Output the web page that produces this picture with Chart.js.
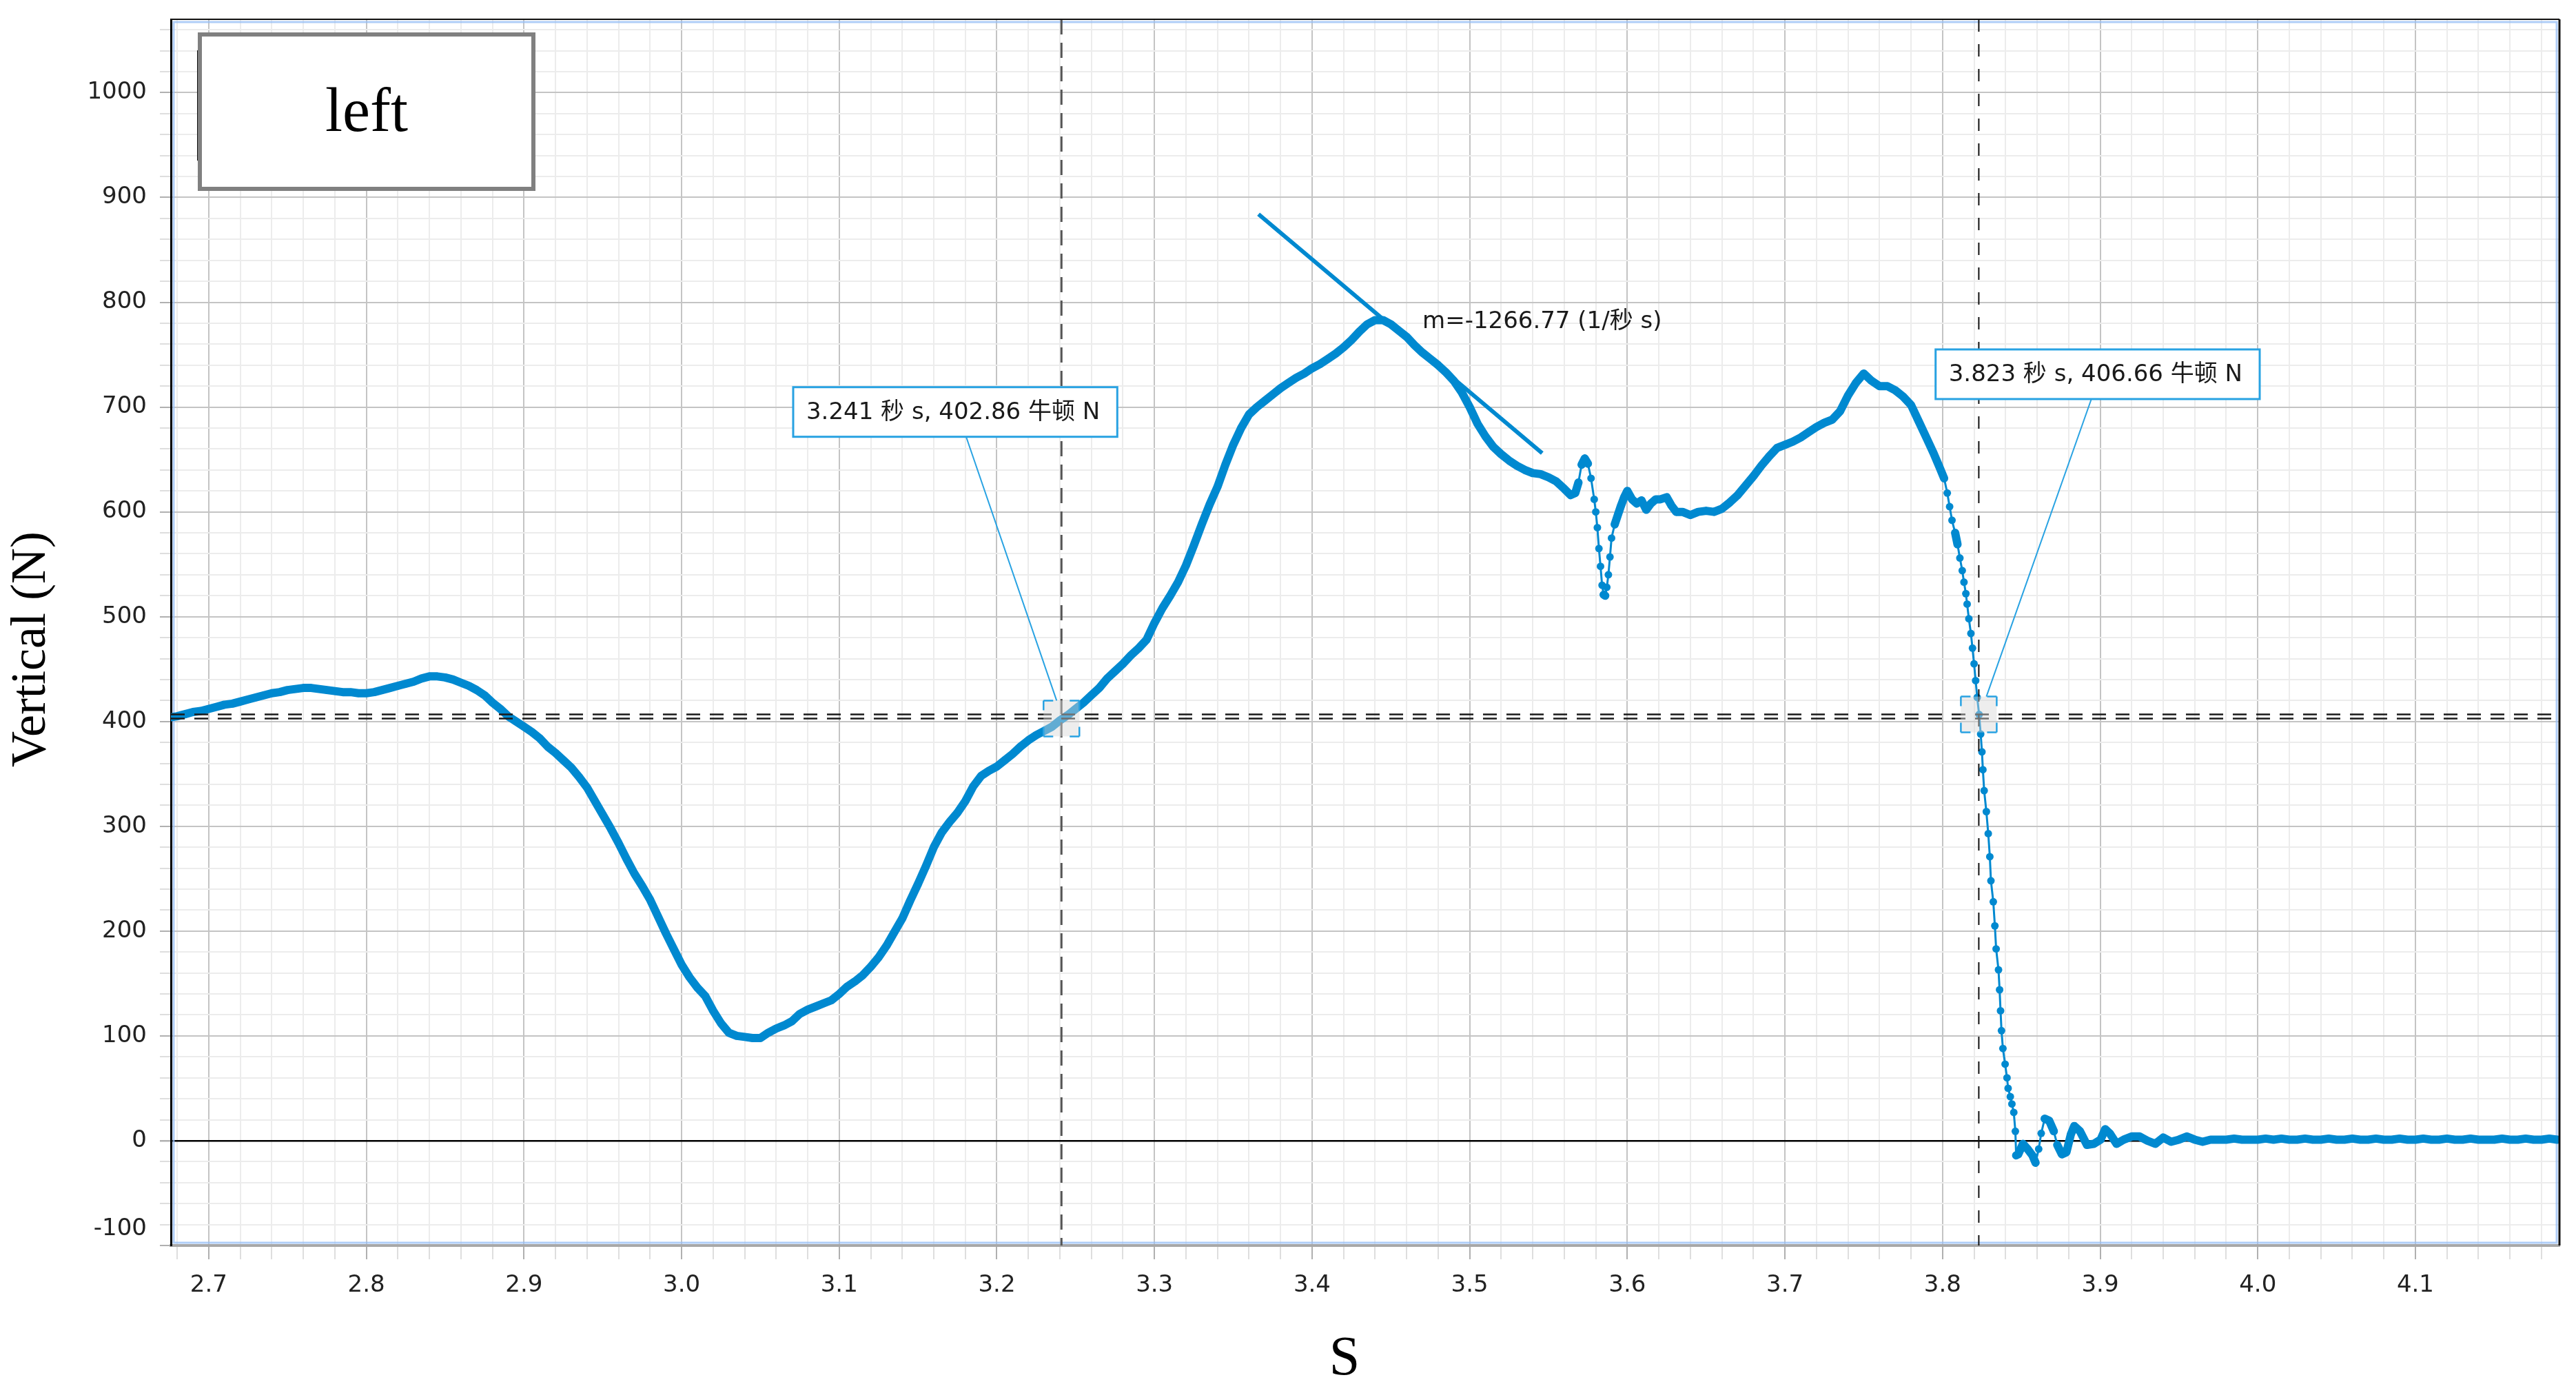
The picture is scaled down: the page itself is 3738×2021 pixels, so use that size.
<!DOCTYPE html>
<html>
<head>
<meta charset="utf-8">
<title>Vertical force</title>
<script src="https://cdn.jsdelivr.net/npm/chart.js@4.4.1/dist/chart.umd.min.js"></script>
<style>
  html, body { margin: 0; padding: 0; background: #fff; }
</style>
</head>
<body>
<canvas id="force_chart" width="3738" height="2021"></canvas>
<script>
// force plate trace
const time_s = [
    2.676, 2.680, 2.685, 2.690, 2.695, 2.700, 2.705, 2.710, 2.715, 2.720,
    2.725, 2.730, 2.735, 2.740, 2.745, 2.750, 2.755, 2.760, 2.765, 2.770,
    2.775, 2.780, 2.785, 2.790, 2.795, 2.800, 2.805, 2.810, 2.815, 2.820,
    2.825, 2.830, 2.835, 2.840, 2.845, 2.850, 2.855, 2.860, 2.865, 2.870,
    2.875, 2.880, 2.885, 2.890, 2.895, 2.900, 2.905, 2.910, 2.915, 2.920,
    2.925, 2.930, 2.935, 2.940, 2.945, 2.950, 2.955, 2.960, 2.965, 2.970,
    2.975, 2.980, 2.985, 2.990, 2.995, 3.000, 3.005, 3.010, 3.015, 3.020,
    3.025, 3.030, 3.035, 3.040, 3.045, 3.050, 3.055, 3.060, 3.065, 3.070,
    3.075, 3.080, 3.085, 3.090, 3.095, 3.100, 3.105, 3.110, 3.115, 3.120,
    3.125, 3.130, 3.135, 3.140, 3.145, 3.150, 3.155, 3.160, 3.165, 3.170,
    3.175, 3.180, 3.185, 3.190, 3.195, 3.200, 3.205, 3.210, 3.215, 3.220,
    3.225, 3.230, 3.235, 3.240, 3.245, 3.250, 3.255, 3.260, 3.265, 3.270,
    3.275, 3.280, 3.285, 3.290, 3.295, 3.300, 3.305, 3.310, 3.315, 3.320,
    3.325, 3.330, 3.335, 3.340, 3.345, 3.350, 3.355, 3.360, 3.365, 3.370,
    3.375, 3.380, 3.385, 3.390, 3.395, 3.400, 3.405, 3.410, 3.415, 3.420,
    3.425, 3.430, 3.435, 3.440, 3.445, 3.450, 3.455, 3.460, 3.465, 3.470,
    3.475, 3.480, 3.485, 3.490, 3.495, 3.500, 3.505, 3.510, 3.515, 3.520,
    3.525, 3.530, 3.535, 3.540, 3.545, 3.550, 3.555, 3.560, 3.564, 3.567,
    3.569, 3.571, 3.573, 3.575, 3.577, 3.579, 3.580, 3.581, 3.582, 3.583,
    3.584, 3.585, 3.586, 3.587, 3.588, 3.589, 3.590, 3.592, 3.594, 3.596,
    3.598, 3.600, 3.603, 3.606, 3.609, 3.612, 3.615, 3.618, 3.621, 3.625,
    3.628, 3.631, 3.635, 3.640, 3.645, 3.650, 3.655, 3.660, 3.665, 3.670,
    3.675, 3.680, 3.685, 3.690, 3.695, 3.700, 3.705, 3.710, 3.715, 3.720,
    3.725, 3.730, 3.735, 3.740, 3.745, 3.750, 3.755, 3.760, 3.765, 3.770,
    3.775, 3.780, 3.785, 3.790, 3.794, 3.798, 3.801, 3.803, 3.8045, 3.806,
    3.808, 3.8095, 3.811, 3.8125, 3.8136, 3.8148, 3.8156, 3.8167, 3.818, 3.819,
    3.820, 3.821, 3.822, 3.8232, 3.8242, 3.825, 3.8256, 3.8264, 3.8278, 3.829,
    3.830, 3.8307, 3.8322, 3.8332, 3.834, 3.8355, 3.8362, 3.8368, 3.8374, 3.8383,
    3.8397, 3.8409, 3.8416, 3.843, 3.844, 3.8452, 3.8462, 3.8467, 3.848, 3.851,
    3.854, 3.857, 3.859, 3.861, 3.8626, 3.8648, 3.8677, 3.8706, 3.8728, 3.8757,
    3.8786, 3.8814, 3.8836, 3.8872, 3.8916, 3.8959, 3.9003, 3.9032, 3.9061, 3.9104,
    3.915, 3.920, 3.925, 3.930, 3.935, 3.940, 3.945, 3.950, 3.955, 3.960,
    3.965, 3.970, 3.975, 3.980, 3.985, 3.990, 3.995, 4.000, 4.005, 4.010,
    4.015, 4.020, 4.025, 4.030, 4.035, 4.040, 4.045, 4.050, 4.055, 4.060,
    4.065, 4.070, 4.075, 4.080, 4.085, 4.090, 4.095, 4.100, 4.105, 4.110,
    4.115, 4.120, 4.125, 4.130, 4.135, 4.140, 4.145, 4.150, 4.155, 4.160,
    4.165, 4.170, 4.175, 4.180, 4.185, 4.190
];
const force_n = [
    404, 405, 407, 409, 410, 412, 414, 416, 417, 419,
    421, 423, 425, 427, 428, 430, 431, 432, 432, 431,
    430, 429, 428, 428, 427, 427, 428, 430, 432, 434,
    436, 438, 441, 443, 443, 442, 440, 437, 434, 430,
    425, 418, 412, 405, 400, 395, 390, 384, 376, 370,
    363, 356, 347, 337, 324, 311, 298, 284, 269, 255,
    243, 230, 214, 198, 183, 168, 156, 146, 138, 124,
    112, 103, 100, 99, 98, 98, 103, 107, 110, 114,
    121, 125, 128, 131, 134, 140, 147, 152, 158, 166,
    175, 186, 199, 212, 229, 245, 262, 280, 294, 304,
    313, 324, 338, 348, 353, 357, 363, 369, 376, 382,
    387, 391, 395, 401, 406, 412, 418, 425, 432, 441,
    448, 455, 463, 470, 478, 494, 508, 520, 533, 549,
    568, 588, 607, 624, 645, 664, 680, 693, 700, 706,
    712, 718, 723, 728, 732, 737, 741, 746, 751, 757,
    764, 772, 779, 783, 783, 779, 773, 767, 759, 752,
    746, 740, 733, 725, 714, 700, 684, 672, 662, 655,
    649, 644, 640, 637, 636, 633, 629, 622, 616, 618,
    628, 645, 651, 646, 632, 612, 600, 585, 565, 548,
    530, 521, 520, 528, 540, 557, 575, 588, 597, 606,
    614, 620, 612, 608, 611, 602, 608, 612, 612, 614,
    606, 600, 600, 597, 600, 601, 600, 603, 609, 616,
    625, 634, 644, 653, 661, 664, 667, 671, 676, 681,
    685, 688, 696, 711, 723, 732, 725, 720, 720, 716,
    710, 702, 686, 670, 657, 643, 632, 618, 605, 592,
    580, 569, 556, 544, 533, 522, 512, 498, 484, 470,
    455, 439, 423, 406.66, 388, 371, 354, 334, 314, 293,
    271, 248, 228, 205, 183, 163, 144, 124, 105, 88,
    73, 60, 50, 42, 35, 27, 9, -14, -13, -3,
    -8, -14, -21, -8, 7, 21, 19, 9, -4, -13,
    -11, 6, 14, 9, -4, -3, 1, 11, 7, -3,
    1, 4, 4, 0, -3, 3, -1, 1, 4, 1,
    -1, 1, 1, 1, 2, 1, 1, 1, 2, 1,
    2, 1, 1, 2, 1, 1, 2, 1, 1, 2,
    1, 1, 2, 1, 1, 2, 1, 1, 2, 1,
    1, 2, 1, 1, 2, 1, 1, 1, 2, 1,
    1, 2, 1, 1, 2, 1
];

const series_name = 'left';
const x_title = 'S';
const y_title = 'Vertical (N)';

// tangent fitted on the descent after the first peak
const tangent_time = [3.366, 3.546];
const tangent_force = [884, 656];
const tangent_label = 'm=-1266.77 (1/秒 s)';

// the two cursor read-outs
const cursor_time = [3.241, 3.823];
const cursor_force = [402.86, 406.66];
const cursor_labels = ['3.241 秒 s, 402.86 牛顿 N', '3.823 秒 s, 406.66 牛顿 N'];

// where the text boxes sit (data coordinates of their top left corner)
const box_anchor = [[3.0708, 719], [3.7956, 755]];
const tangent_label_anchor = [3.470, 781];

const BLUE = 'rgb(0,137,208)';
const BOX_BLUE = 'rgb(40,162,226)';
const SANS = '"DejaVu Sans", "Noto Sans CJK SC", sans-serif';
const SERIF = '"Liberation Serif", "Times New Roman", serif';
const Y_MIN = -100;

const is_major_x = v => Math.abs(v * 10 - Math.round(v * 10)) < 1e-6;
const is_major_y = v => Math.abs(v % 100) < 1e-6;

const draw_line = (ctx, x0, y0, x1, y1) => {
    ctx.beginPath();
    ctx.moveTo(x0, y0);
    ctx.lineTo(x1, y1);
    ctx.stroke();
};

const frame_plugin = {
    id: 'frame',
    beforeDatasetsDraw(chart) {
        const {ctx, chartArea: a} = chart;
        ctx.save();
        ctx.strokeStyle = 'rgba(150,190,245,0.75)';
        ctx.lineWidth = 3;
        ctx.strokeRect(a.left + 4, a.top + 4, a.right - a.left - 8, a.bottom - a.top - 8);
        ctx.restore();
    },
    afterDraw(chart) {
        const {ctx, chartArea: a} = chart;
        ctx.save();
        ctx.strokeStyle = '#111';
        ctx.lineWidth = 2;
        draw_line(ctx, a.left, a.top, a.right, a.top);
        ctx.lineWidth = 3;
        draw_line(ctx, a.right, a.top, a.right, a.bottom);

        // axis titles, placed like the original
        ctx.fillStyle = '#000';
        ctx.textAlign = 'center';
        ctx.textBaseline = 'middle';
        ctx.font = '80px ' + SERIF;
        ctx.fillText(chart.options.scales.x.title.text, a.left + 1703, a.bottom + 166);
        ctx.save();
        ctx.translate(a.left - 202, a.top + 914);
        ctx.rotate(-Math.PI / 2);
        ctx.font = '72px ' + SERIF;
        ctx.fillText(chart.options.scales.y.title.text, 0, 0);
        ctx.restore();

        // lowest y label sits a little above its tick in the original
        ctx.font = '34px ' + SANS;
        ctx.fillStyle = '#222';
        ctx.textAlign = 'right';
        ctx.fillText(String(Y_MIN), a.left - 35, a.bottom - 24);
        ctx.restore();
    }
};

const cursor_plugin = {
    id: 'cursors',
    afterDatasetsDraw(chart) {
        const {ctx, chartArea: a, scales: {x, y}} = chart;
        ctx.save();
        ctx.beginPath();
        ctx.rect(a.left, a.top, a.right - a.left, a.bottom - a.top);
        ctx.clip();

        // dashed cross hairs
        ctx.setLineDash([20, 14]);
        ctx.strokeStyle = '#1a1a1a';
        ctx.lineWidth = 2.5;
        cursor_force.forEach(f => {
            const py = y.getPixelForValue(f);
            draw_line(ctx, a.left, py, a.right, py);
        });
        cursor_time.forEach((t, i) => {
            const px = x.getPixelForValue(t);
            ctx.setLineDash(i === 0 ? [22, 12] : [18, 18]);
            ctx.strokeStyle = i === 0 ? '#555' : '#111';
            ctx.lineWidth = i === 0 ? 3 : 2;
            draw_line(ctx, px, a.top, px, a.bottom);
        });

        // bracket squares on the picked points
        const half = 26;
        cursor_time.forEach((t, i) => {
            const px = x.getPixelForValue(t);
            const py = y.getPixelForValue(cursor_force[i]);
            ctx.setLineDash([]);
            ctx.fillStyle = 'rgba(215,215,215,0.45)';
            ctx.fillRect(px - half, py - half, half * 2, half * 2);
            ctx.strokeStyle = BOX_BLUE;
            ctx.lineWidth = 2.5;
            ctx.setLineDash([14, 24]);
            draw_line(ctx, px - half, py - half, px + half, py - half);
            draw_line(ctx, px + half, py - half, px + half, py + half);
            draw_line(ctx, px + half, py + half, px - half, py + half);
            draw_line(ctx, px - half, py + half, px - half, py - half);
        });

        // boxes with the readings
        ctx.setLineDash([]);
        ctx.font = '34px ' + SANS;
        ctx.textBaseline = 'middle';
        ctx.textAlign = 'left';
        cursor_labels.forEach((label, i) => {
            const bx = x.getPixelForValue(box_anchor[i][0]);
            const by = y.getPixelForValue(box_anchor[i][1]);
            const bw = ctx.measureText(label).width + 44;
            const bh = 72;
            const px = x.getPixelForValue(cursor_time[i]);
            const py = y.getPixelForValue(cursor_force[i]);
            ctx.strokeStyle = BOX_BLUE;
            ctx.lineWidth = 2;
            draw_line(ctx, bx + (i === 0 ? 251 : 226), by + bh, px + (i === 0 ? -7 : 11), py - half);
            ctx.fillStyle = '#fff';
            ctx.fillRect(bx, by, bw, bh);
            ctx.lineWidth = 3;
            ctx.strokeRect(bx, by, bw, bh);
            ctx.fillStyle = '#1a1a1a';
            ctx.fillText(label, bx + 19, by + bh / 2 + 1);
        });

        ctx.fillStyle = '#1a1a1a';
        ctx.fillText(tangent_label, x.getPixelForValue(tangent_label_anchor[0]), y.getPixelForValue(tangent_label_anchor[1]));
        ctx.restore();
    }
};

const legend_plugin = {
    id: 'legend_box',
    afterDraw(chart) {
        const {ctx, chartArea: a} = chart;
        const left = a.left + 42, top = a.top + 22, w = 484, h = 224;
        ctx.save();
        ctx.strokeStyle = '#111';
        ctx.lineWidth = 2;
        draw_line(ctx, left - 3, top + 23, left - 3, top + 183);
        ctx.fillStyle = '#fff';
        ctx.fillRect(left, top, w, h);
        ctx.strokeStyle = '#808080';
        ctx.lineWidth = 6;
        ctx.strokeRect(left, top, w, h);
        ctx.fillStyle = '#000';
        ctx.font = '90px ' + SERIF;
        ctx.textAlign = 'center';
        ctx.textBaseline = 'middle';
        ctx.fillText(chart.data.datasets[0].label, left + w / 2, top + h / 2 + 4);
        ctx.restore();
    }
};

const main_points = time_s.map((t, i) => ({x: t, y: force_n[i]}));
const tangent_points = tangent_time.map((t, i) => ({x: t, y: tangent_force[i]}));

const ctx = document.getElementById('force_chart').getContext('2d');
const chart = new Chart(ctx, {
    type: 'line',
    data: {
        datasets: [{
            label: series_name,
            data: main_points,
            borderColor: BLUE,
            backgroundColor: BLUE,
            borderWidth: 12,
            borderCapStyle: 'round',
            borderJoinStyle: 'round',
            pointRadius: 5.5,
            pointBorderWidth: 0,
            pointBackgroundColor: BLUE,
            tension: 0,
            segment: {
                // thin connector where the samples are far apart, like the original trace
                borderWidth: c => {
                    const steps = Math.max(1, Math.round((time_s[c.p1DataIndex] - time_s[c.p0DataIndex]) * 1000));
                    const len = Math.hypot(c.p1.x - c.p0.x, c.p1.y - c.p0.y);
                    return len / steps > 9 ? 3 : 12;
                }
            }
        }, {
            label: 'tangent',
            data: tangent_points,
            borderColor: BLUE,
            borderWidth: 6,
            pointRadius: 0
        }]
    },
    options: {
        responsive: false,
        animation: false,
        events: [],
        layout: { padding: { top: 28, right: 24, bottom: 0, left: 0 } },
        plugins: {
            legend: { display: false },
            tooltip: { enabled: false }
        },
        scales: {
            x: {
                type: 'linear',
                min: 2.676,
                max: 4.1914,
                afterFit: s => { s.height = 214; s.paddingLeft = 0; s.paddingRight = 0; },
                border: { color: '#a8a8a8', width: 4 },
                grid: {
                    color: c => (c.tick && is_major_x(c.tick.value)) ? '#c4c4c4' : '#ececec',
                    tickColor: c => (c.tick && is_major_x(c.tick.value)) ? '#b0b0b0' : '#dedede',
                    lineWidth: 2,
                    tickLength: 20
                },
                ticks: {
                    stepSize: 0.02,
                    includeBounds: false,
                    autoSkip: false,
                    maxRotation: 0,
                    maxTicksLimit: 1000,
                    padding: 18,
                    color: '#222',
                    font: { family: SANS, size: 34 },
                    callback: v => is_major_x(v) ? v.toFixed(1) : ''
                },
                title: { display: false, text: x_title }
            },
            y: {
                type: 'linear',
                min: Y_MIN,
                max: 1070,
                afterFit: s => { s.width = 248; s.paddingTop = 0; s.paddingBottom = 0; },
                border: { color: '#000', width: 3 },
                grid: {
                    color: c => !c.tick ? '#ececec' : (c.tick.value === 0 ? '#000' : (is_major_y(c.tick.value) ? '#c4c4c4' : '#ececec')),
                    tickColor: c => (c.tick && is_major_y(c.tick.value)) ? '#b0b0b0' : '#dedede',
                    lineWidth: c => (c.tick && c.tick.value === 0) ? 2.5 : 2,
                    tickLength: 16
                },
                ticks: {
                    stepSize: 20,
                    includeBounds: false,
                    autoSkip: false,
                    maxTicksLimit: 1000,
                    padding: 19,
                    color: '#222',
                    font: { family: SANS, size: 34 },
                    callback: v => (is_major_y(v) && v !== Y_MIN) ? String(v) : ''
                },
                title: { display: false, text: y_title }
            }
        }
    },
    plugins: [frame_plugin, cursor_plugin, legend_plugin]
});
</script>
</body>
</html>
